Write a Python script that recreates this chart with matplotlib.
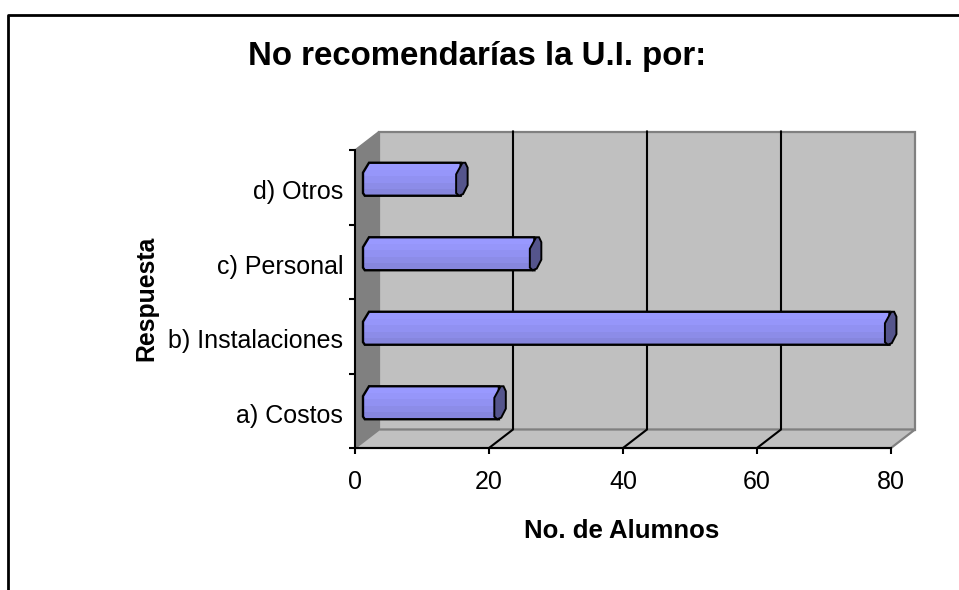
import numpy as np
import matplotlib
matplotlib.use("Agg")
import matplotlib.pyplot as plt
from matplotlib.patches import Polygon

categorias = ["a) Costos", "b) Instalaciones", "c) Personal", "d) Otros"]
alumnos = [19.6, 77.9, 24.9, 13.9]
ticks_x = [0, 20, 40, 60, 80]

W, H = 959, 590
plt.rcParams["font.family"] = ["Liberation Sans", "DejaVu Sans"]

fig = plt.figure(figsize=(W / 100, H / 100), dpi=100)

# marco exterior (sin lado derecho ni inferior)
fig.add_artist(plt.Line2D([7.5 / W, 7.5 / W, 1],
                          [0, 1 - 14.5 / H, 1 - 14.5 / H], color="black", lw=2))

# ejes en el plano frontal
X0, X1, Y0, Y1 = 355, 891, 448, 150
ax = fig.add_axes([X0 / W, 1 - Y0 / H, (X1 - X0) / W, (Y0 - Y1) / H])
ax.set_xlim(0, 80)
ax.set_ylim(0, 4)
ax.patch.set_visible(False)
for s in ["top", "right"]:
    ax.spines[s].set_visible(False)
for s in ["left", "bottom"]:
    ax.spines[s].set_linewidth(1.5)
    ax.spines[s].set_zorder(6)

px_x = (X1 - X0) / 80
px_y = (Y0 - Y1) / 4
DX, DY = 24 / px_x, 18.5 / px_y

# pared del fondo, pared izquierda y piso
ax.add_patch(Polygon([(DX, DY), (80 + DX, DY), (80 + DX, 4 + DY), (DX, 4 + DY)],
                     fc="#c0c0c0", ec="#808080", lw=1.6, clip_on=False, zorder=1))
ax.add_patch(Polygon([(0, 0), (DX, DY), (DX, 4 + DY), (0, 4)],
                     fc="#808080", ec="#808080", lw=1, clip_on=False, zorder=1))
ax.add_patch(Polygon([(0, 0), (80, 0), (80 + DX, DY), (DX, DY)],
                     fc="#c0c0c0", ec="#808080", lw=1.6, clip_on=False, zorder=1))

# rejilla
for t in ticks_x[1:-1]:
    ax.plot([t, t + DX, t + DX], [0, DY, 4 + DY], color="black", lw=1.5,
            clip_on=False, zorder=2)

# barras tipo cilindro
sx, sy = 8 / px_x, 8 / px_y
alto = 33 / px_y
cham = 6 / px_x
capw = 11.5 / px_x
degradado = ["#9999ff", "#9696fa", "#9191f2", "#8c8ce8", "#8686de"]
for i, v in enumerate(alumnos):
    yc = i + 0.5 + sy
    yb, yt = yc - alto / 2, yc + alto / 2
    xl = sx
    xr = v + sx
    cuerpo = Polygon([(xl, yb + alto * 0.08), (xl + cham * 0.3, yb), (xr + capw * 0.4, yb),
                      (xr + capw * 0.4, yt), (xl + cham, yt), (xl, yt - alto * 0.3)],
                     fc="none", ec="black", lw=1.7, clip_on=False, zorder=4)
    ax.add_patch(cuerpo)
    im = ax.imshow(np.arange(5).reshape(5, 1), extent=(xl, xr + capw * 0.4, yb, yt),
                   cmap=matplotlib.colors.ListedColormap(degradado), origin="upper",
                   aspect="auto", interpolation="nearest", zorder=3)
    im.set_clip_path(cuerpo)
    tapa = Polygon([(xr, yb + alto * 0.08), (xr + capw * 0.25, yb), (xr + capw * 0.6, yb + alto * 0.05),
                    (xr + capw, yb + alto * 0.32), (xr + capw, yt - alto * 0.15),
                    (xr + capw * 0.8, yt), (xr + capw * 0.55, yt), (xr, yt - alto * 0.35)],
                   fc="#55558c", ec="black", lw=1.4, clip_on=False, zorder=5)
    ax.add_patch(tapa)
ax.set_xlim(0, 80)
ax.set_ylim(0, 4)

ax.set_xticks(ticks_x)
ax.set_yticks(range(5))
ax.set_yticklabels([])
ax.tick_params(axis="both", length=4.5, width=1.5, labelsize=18, color="black")
ax.tick_params(axis="x", pad=11)
for i, c in enumerate(categorias):
    ax.annotate(c, xy=(0, i + 0.5), xytext=(-8.5, -3.5), textcoords="offset points",
                ha="right", va="center", fontsize=18)

fig.text(477 / W, 1 - 57 / H, "No recomendarías la U.I. por:", ha="center", va="center",
         fontsize=23.8, fontweight="bold")
fig.text(622 / W, 1 - 531.5 / H, "No. de Alumnos", ha="center", va="center",
         fontsize=18.5, fontweight="bold")
fig.text(146 / W, 1 - 298 / H, "Respuesta", ha="center", va="center", rotation=90,
         fontsize=17.8, fontweight="bold")

fig.savefig("out.png", dpi=100)
